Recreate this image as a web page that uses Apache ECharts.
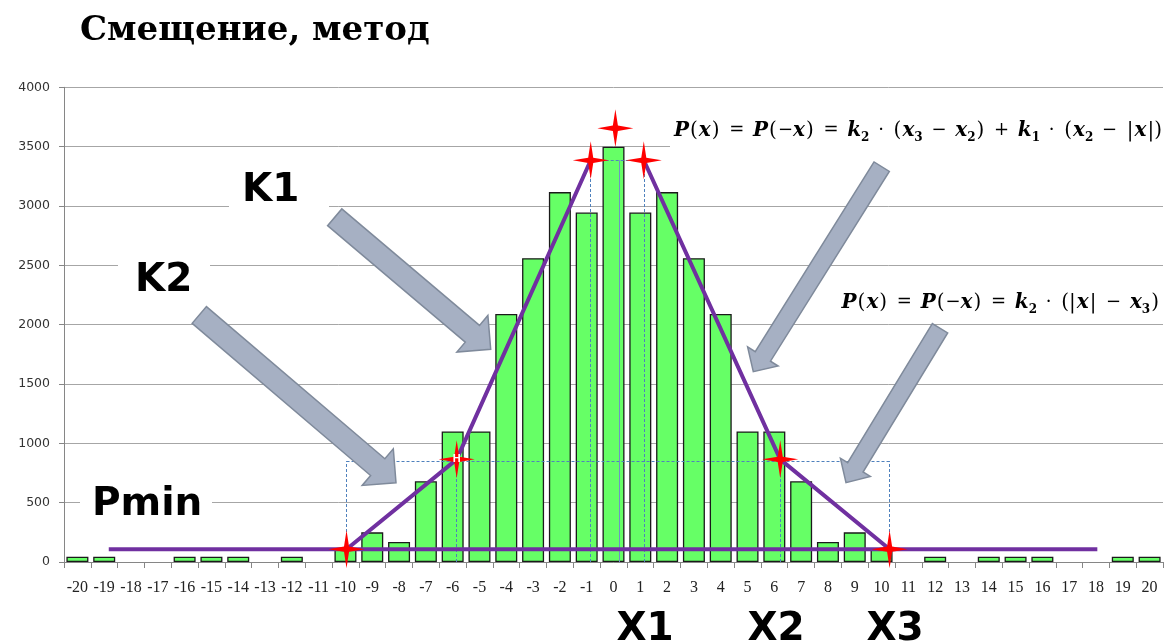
<!DOCTYPE html>
<html>
<head>
<meta charset="utf-8">
<title>Смещение, метод</title>
<script src="https://cdn.jsdelivr.net/npm/echarts@6/dist/echarts.min.js"></script>
<style>
  html, body { margin: 0; padding: 0; background: #fff; }
  #chart { width: 1166px; height: 641px; }
</style>
</head>
<body>
<div id="chart"></div>
<script>
// гистограмма смещений
const categories = ['-20', '-19', '-18', '-17', '-16', '-15', '-14', '-13', '-12', '-11', '-10',
  '-9', '-8', '-7', '-6', '-5', '-4', '-3', '-2', '-1', '0', '1', '2', '3', '4', '5', '6', '7', '8', '9',
  '10', '11', '12', '13', '14', '15', '16', '17', '18', '19', '20'];
const counts = [45, 45, 0, 0, 45, 45, 45, 0, 45, 0, 110,
  250, 168, 680, 1100, 1100, 2090, 2560, 3117, 2945, 3500, 2945, 3117, 2560, 2090, 1100, 1100, 680, 168, 250,
  110, 0, 45, 0, 45, 45, 45, 0, 0, 45, 45];

// аппроксимация (кусочно-линейная)
const pmin = 108;
const pminSpan = [-18.83, 18.05];
const leftX = [-9.96, -5.85, -0.85];
const leftY = [108, 865, 3385];
const rightX = [1.13, 6.22, 10.3];
const rightY = [3385, 865, 108];
const starX = [-9.96, -5.85, -0.85, 0.07, 1.13, 6.22, 10.3];
const starY = [108, 865, 3385, 3655, 3385, 865, 108];

// вспомогательные линии
const boxTop = 850;
const boxX = [-9.96, -5.85, 6.22, 10.3];
const peakTop = 3385;
const peakX = [-0.85, 1.13];
const centerX = 0.2;

const dashed = [];
boxX.forEach(x => dashed.push({ coords: [[x, 0], [x, boxTop]] }));
dashed.push({ coords: [[boxX[0], boxTop], [boxX[3], boxTop]] });
peakX.forEach(x => dashed.push({ coords: [[x, 0], [x, peakTop]] }));
dashed.push({ coords: [[peakX[0], peakTop], [peakX[1], peakTop]] });
const solid = [{ coords: [[centerX, 0], [centerX, peakTop]] }];

const starPath = 'path://M0,-10 L1.4,-1.4 L10,0 L1.4,1.4 L0,10 L-1.4,1.4 L-10,0 L-1.4,-1.4 Z';

function arrow(tail, tip, sw, hw, hl) {
  const dx = tip[0] - tail[0], dy = tip[1] - tail[1];
  const len = Math.sqrt(dx * dx + dy * dy);
  const ux = dx / len, uy = dy / len, nx = -uy, ny = ux;
  const bx = tip[0] - ux * hl, by = tip[1] - uy * hl;
  const pts = [
    [tail[0] + nx * sw / 2, tail[1] + ny * sw / 2],
    [bx + nx * sw / 2, by + ny * sw / 2],
    [bx + nx * hw / 2, by + ny * hw / 2],
    tip,
    [bx - nx * hw / 2, by - ny * hw / 2],
    [bx - nx * sw / 2, by - ny * sw / 2],
    [tail[0] - nx * sw / 2, tail[1] - ny * sw / 2]
  ];
  return {
    type: 'polygon', z: 20,
    shape: { points: pts },
    style: { fill: '#a6b0c3', stroke: '#7f8a9b', lineWidth: 1.5 }
  };
}

function whiteBox(x, y, w, h) {
  return { type: 'rect', z: 1, shape: { x: x, y: y, width: w, height: h }, style: { fill: '#fff' } };
}

function label(text, x, y, align) {
  return {
    type: 'text', z: 21,
    style: { text: text, x: x, y: y, align: align || 'left', verticalAlign: 'middle',
      font: 'bold 39px "DejaVu Sans"', fill: '#000' }
  };
}

const mathRich = {
  v: { fontFamily: 'DejaVu Serif', fontWeight: 'bold', fontStyle: 'italic', fontSize: 20, lineHeight: 26, color: '#000' },
  p: { fontFamily: 'DejaVu Serif', fontSize: 20, lineHeight: 26, color: '#000', padding: [0, 1] },
  o: { fontFamily: 'DejaVu Serif', fontSize: 18, lineHeight: 26, color: '#000', padding: [0, 3] },
  m: { fontFamily: 'DejaVu Serif', fontSize: 18, lineHeight: 26, color: '#000' },
  s: { fontFamily: 'DejaVu Serif', fontWeight: 'bold', fontSize: 12, lineHeight: 14, verticalAlign: 'bottom', color: '#000' }
};
const formula1 = '{v|P}{p|(}{v|x}{p|)}{o| = }{v|P}{p|(}{m|−}{v|x}{p|)}{o| = }{v|k}{s|2}{o| · }{p|(}{v|x}{s|3}{o| − }{v|x}{s|2}{p|)}{o| + }{v|k}{s|1}{o| · }{p|(}{v|x}{s|2}{o| − }{p||}{v|x}{p||)}';
const formula2 = '{v|P}{p|(}{v|x}{p|)}{o| = }{v|P}{p|(}{m|−}{v|x}{p|)}{o| = }{v|k}{s|2}{o| · }{p|(|}{v|x}{p||}{o| − }{v|x}{s|3}{p|)}';

const chart = echarts.init(document.getElementById('chart'));
chart.setOption({
  animation: false,
  backgroundColor: '#fff',
  grid: { left: 64, right: 3, top: 87.3, bottom: 79, outerBoundsMode: 'none' },
  xAxis: [{
    type: 'category',
    data: categories,
    axisLine: { lineStyle: { color: '#868686', width: 1 } },
    axisTick: { show: true, length: 6, lineStyle: { color: '#868686' } },
    axisLabel: { interval: 0, margin: 18, color: '#222', fontFamily: 'Liberation Serif', fontSize: 16 },
    splitLine: { show: false }
  }, {
    type: 'value', min: -20.5, max: 20.5, show: false
  }],
  yAxis: {
    type: 'value', min: 0, max: 4000, interval: 500,
    axisLine: { show: true, onZero: false, lineStyle: { color: '#868686', width: 1 } },
    axisTick: { show: true, length: 5, lineStyle: { color: '#868686' } },
    axisLabel: { margin: 14, color: '#333', fontFamily: 'DejaVu Sans', fontSize: 12.5, formatter: v => String(v) },
    splitLine: { lineStyle: { color: '#a6a6a6', width: 1 } }
  },
  series: [{
    type: 'bar',
    data: counts.map(v => (v === 0 ? '-' : v)),
    barWidth: 22,
    itemStyle: { color: '#66ff66', borderColor: '#1a1a1a', borderWidth: 1.3 },
    z: 2
  }, {
    type: 'lines', coordinateSystem: 'cartesian2d', xAxisIndex: 1, yAxisIndex: 0,
    lineStyle: { color: '#4f81bd', width: 1, type: [3, 2], opacity: 1, curveness: 0 },
    data: dashed, z: 3
  }, {
    type: 'lines', coordinateSystem: 'cartesian2d', xAxisIndex: 1, yAxisIndex: 0,
    lineStyle: { color: '#6f93c4', width: 1, opacity: 1, curveness: 0 },
    data: solid, z: 3
  }, {
    type: 'line', xAxisIndex: 1, symbol: 'none',
    data: pminSpan.map(x => [x, pmin]),
    lineStyle: { color: '#7030a0', width: 4 }, z: 4
  }, {
    type: 'line', xAxisIndex: 1, symbol: 'none',
    data: leftX.map((x, i) => [x, leftY[i]]),
    lineStyle: { color: '#7030a0', width: 4 }, z: 4
  }, {
    type: 'line', xAxisIndex: 1, symbol: 'none',
    data: rightX.map((x, i) => [x, rightY[i]]),
    lineStyle: { color: '#7030a0', width: 4 }, z: 4
  }, {
    type: 'scatter', xAxisIndex: 1,
    symbol: starPath, symbolSize: [36, 38],
    itemStyle: { color: '#ff0000', opacity: 1 },
    data: starX.map((x, i) => i === 1
      ? { value: [x, starY[i]], label: { show: true, position: 'inside', formatter: 'H', color: '#fff', fontSize: 11, fontWeight: 'bold' } }
      : [x, starY[i]]),
    z: 5
  }],
  graphic: [
    { type: 'text', z: 21, style: { text: 'Смещение, метод', x: 80, y: 31, verticalAlign: 'middle',
      font: 'bold 34px "DejaVu Serif"', fill: '#000' } },
    whiteBox(229, 172, 100, 40),
    whiteBox(118, 258, 92, 40),
    whiteBox(80, 484, 132, 36),
    whiteBox(670, 112, 496, 40),
    label('K1', 242, 190.6),
    label('K2', 135, 281),
    label('Pmin', 92, 504.6),
    label('X1', 645, 629.6, 'center'),
    label('X2', 776, 629.6, 'center'),
    label('X3', 895, 629.6, 'center'),
    { type: 'text', z: 21, style: { text: formula1, x: 1163, y: 130.5, align: 'right', verticalAlign: 'middle', rich: mathRich } },
    { type: 'text', z: 21, style: { text: formula2, x: 1160, y: 302.5, align: 'right', verticalAlign: 'middle', rich: mathRich } },
    arrow([334.7, 217.3], [490.7, 349.3], 22, 48, 24),
    arrow([199.3, 315], [396, 482.7], 22, 48, 24),
    arrow([881.7, 166.7], [753.3, 371.7], 18, 36, 18),
    arrow([940, 328.3], [846, 482.7], 18, 35, 18)
  ]
});
window.onresize = chart.resize;
</script>
</body>
</html>
